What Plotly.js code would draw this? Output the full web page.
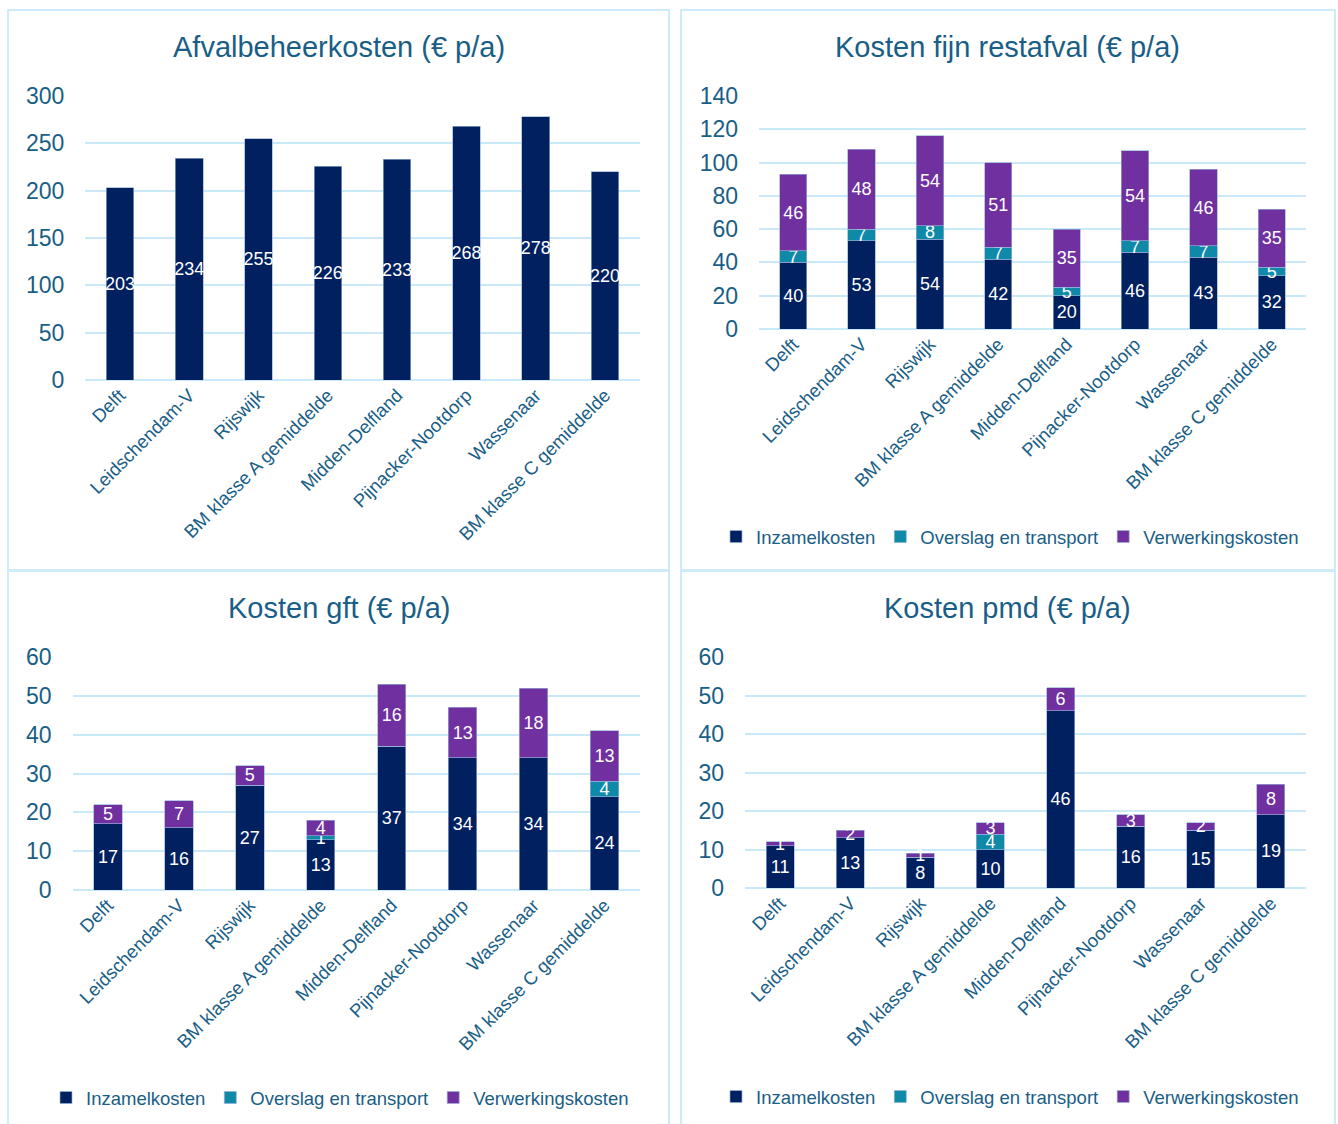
<!DOCTYPE html>
<html>
<head>
<meta charset="utf-8">
<script src="https://cdn.plot.ly/plotly-3.0.1.min.js"></script>
<style>
  html, body { margin: 0; padding: 0; background: #ffffff; }
  #chart { width: 1338px; height: 1124px; }
</style>
</head>
<body>
<div id="chart"></div>
<script>
// Municipalities and benchmark groups
const categories = ["Delft", "Leidschendam-V", "Rijswijk", "BM klasse A gemiddelde",
  "Midden-Delfland", "Pijnacker-Nootdorp", "Wassenaar", "BM klasse C gemiddelde"];

// Total waste management costs (€ per year)
const afvalbeheer = [203, 234, 255, 226, 233, 268, 278, 220];

// Residual waste costs (€ per year)
const restInzamel = [40, 53, 54, 42, 20, 46, 43, 32];
const restOverslag = [7, 7, 8, 7, 5, 7, 7, 5];
const restVerwerking = [46, 48, 54, 51, 35, 54, 46, 35];

// Organic waste (gft) costs (€ per year)
const gftInzamel = [17, 16, 27, 13, 37, 34, 34, 24];
const gftOverslag = [0, 0, 0, 1, 0, 0, 0, 4];
const gftVerwerking = [5, 7, 5, 4, 16, 13, 18, 13];

// Packaging waste (pmd) costs (€ per year)
const pmdInzamel = [11, 13, 8, 10, 46, 16, 15, 19];
const pmdOverslag = [0, 0, 0, 4, 0, 0, 0, 0];
const pmdVerwerking = [1, 2, 1, 3, 6, 3, 2, 8];

const seriesNames = ["Inzamelkosten", "Overslag en transport", "Verwerkingskosten"];

const FONT = "Liberation Sans, Arial, Helvetica, sans-serif";
const TEXT = "#195E86";
const GRID = "#C9E8F8";
const NAVY = "#002060";
const TEAL = "#0F89A8";
const PURPLE = "#7030A0";
const W = 1338, H = 1124;

const px = v => v / W;
const py = v => 1 - v / H;

function labels(vals) {
  return vals.map(v => (v ? String(v) : ""));
}

function barTrace(vals, name, color, axisIdx, legendId, show) {
  const suffix = axisIdx === 1 ? "" : String(axisIdx);
  return {
    type: "bar",
    x: categories,
    y: vals,
    name: name,
    xaxis: "x" + suffix,
    yaxis: "y" + suffix,
    marker: { color: color, line: { color: "rgba(150,175,215,0.85)", width: 0.8 } },
    text: labels(vals),
    textposition: "inside",
    insidetextanchor: "middle",
    textangle: 0,
    constraintext: "none",
    insidetextfont: { family: FONT, size: 18, color: "#ffffff" },
    legend: legendId,
    showlegend: show,
    hoverinfo: "x+y+name"
  };
}

const data = [
  barTrace(afvalbeheer, "Afvalbeheerkosten", NAVY, 1, "legend", false),

  barTrace(restInzamel, seriesNames[0], NAVY, 2, "legend2", true),
  barTrace(restOverslag, seriesNames[1], TEAL, 2, "legend2", true),
  barTrace(restVerwerking, seriesNames[2], PURPLE, 2, "legend2", true),

  barTrace(gftInzamel, seriesNames[0], NAVY, 3, "legend3", true),
  barTrace(gftOverslag, seriesNames[1], TEAL, 3, "legend3", true),
  barTrace(gftVerwerking, seriesNames[2], PURPLE, 3, "legend3", true),

  barTrace(pmdInzamel, seriesNames[0], NAVY, 4, "legend4", true),
  barTrace(pmdOverslag, seriesNames[1], TEAL, 4, "legend4", true),
  barTrace(pmdVerwerking, seriesNames[2], PURPLE, 4, "legend4", true)
];

function xAxis(x0, x1, anchor) {
  return {
    domain: [px(x0), px(x1)],
    anchor: anchor,
    type: "category",
    tickangle: -45,
    showgrid: false,
    zeroline: false,
    showline: false,
    ticks: "",
    tickfont: { family: FONT, size: 18.5, color: TEXT },
    fixedrange: true
  };
}

function yAxis(yTop, yBottom, anchor, max, step) {
  return {
    domain: [py(yBottom), py(yTop)],
    anchor: anchor,
    range: [0, max],
    dtick: step,
    tick0: 0,
    showgrid: true,
    gridcolor: GRID,
    gridwidth: 2,
    zeroline: true,
    zerolinecolor: GRID,
    zerolinewidth: 2,
    showline: false,
    ticks: "",
    ticklabelstandoff: 20,
    tickfont: { family: FONT, size: 23, color: TEXT },
    fixedrange: true
  };
}

function legendAt(cx, cy) {
  return {
    orientation: "h",
    x: px(cx),
    xanchor: "center",
    y: py(cy),
    yanchor: "middle",
    traceorder: "normal",
    itemwidth: 30,
    font: { family: FONT, size: 18.5, color: TEXT },
    bgcolor: "rgba(0,0,0,0)"
  };
}

function titleAt(text, cx, cy) {
  return {
    text: text,
    xref: "paper", yref: "paper",
    x: px(cx), y: py(cy),
    xanchor: "center", yanchor: "middle",
    showarrow: false,
    font: { family: FONT, size: 29, color: TEXT }
  };
}

function panel(x0, y0, x1, y1) {
  return {
    type: "rect", xref: "paper", yref: "paper",
    x0: px(x0), x1: px(x1), y0: py(y1), y1: py(y0),
    line: { color: "#CDEBFA", width: 2 },
    fillcolor: "rgba(0,0,0,0)",
    layer: "below"
  };
}

const layout = {
  width: W,
  height: H,
  margin: { l: 0, r: 0, t: 0, b: 0 },
  paper_bgcolor: "#ffffff",
  plot_bgcolor: "rgba(0,0,0,0)",
  barmode: "stack",
  bargap: 0.6,
  font: { family: FONT, color: TEXT },
  showlegend: true,

  xaxis: xAxis(85.4, 639.6, "y"),
  yaxis: yAxis(96, 380, "x", 300, 50),
  xaxis2: xAxis(759, 1306, "y2"),
  yaxis2: yAxis(96, 329, "x2", 140, 20),
  xaxis3: xAxis(72.5, 640, "y3"),
  yaxis3: yAxis(657, 890, "x3", 60, 10),
  xaxis4: xAxis(745, 1306, "y4"),
  yaxis4: yAxis(657, 888, "x4", 60, 10),

  legend2: legendAt(1010, 537),
  legend3: legendAt(340, 1098),
  legend4: legendAt(1010, 1097),

  annotations: [
    titleAt("Afvalbeheerkosten (€ p/a)", 339, 47),
    titleAt("Kosten fijn restafval (€ p/a)", 1008, 47),
    titleAt("Kosten gft (€ p/a)", 339, 608),
    titleAt("Kosten pmd (€ p/a)", 1008, 608)
  ],

  shapes: [
    panel(8, 10, 669, 570),
    panel(681, 10, 1335, 570),
    panel(8, 571, 669, 1135),
    panel(681, 571, 1335, 1135)
  ]
};

Plotly.newPlot("chart", data, layout, { displayModeBar: false, staticPlot: true });
</script>
</body>
</html>
